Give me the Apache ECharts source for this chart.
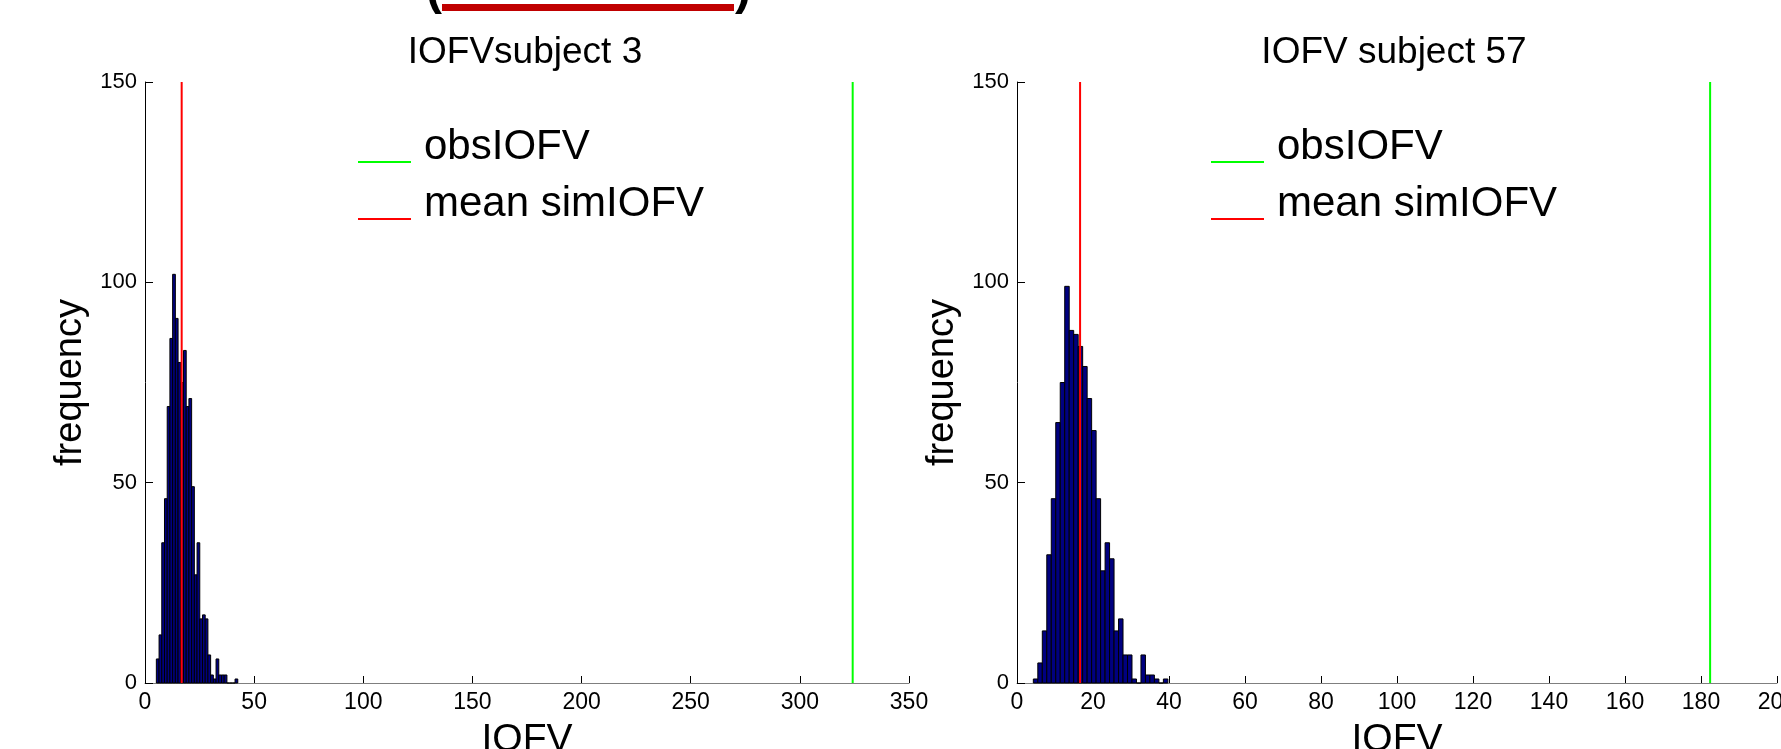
<!DOCTYPE html>
<html>
<head>
<meta charset="utf-8">
<script src="https://cdn.jsdelivr.net/npm/echarts@6/dist/echarts.min.js"></script>
<style>
  html, body { margin: 0; padding: 0; background: #fff; }
  #main { width: 1781px; height: 749px; }
</style>
</head>
<body>
<div id="main"></div>
<script>
// simulated IOFV histograms, 30 bins each (counts)
const titles = ['IOFVsubject 3', 'IOFV subject 57'];
const leftCounts = [6, 12, 35, 46, 69, 86, 102, 91, 80, 75, 83, 69, 71, 49, 27, 35, 16, 17, 16, 7, 2, 1, 6, 2, 2, 2, 0, 0, 0, 1];
const rightCounts = [1, 5, 13, 32, 46, 65, 75, 99, 88, 87, 84, 79, 71, 63, 46, 28, 35, 31, 13, 16, 7, 7, 1, 0, 7, 2, 2, 1, 0, 1];
const binRanges = [[5.2, 42.5], [4.3, 39.7]];
const obsIOFV = [324.2, 182.4];
const meanSimIOFV = [16.8, 16.6];
const xMax = [350, 200];
const xStep = [50, 20];
const yMax = 150;
const yStep = 50;

const FONT = "'Liberation Sans', Arial, sans-serif";
const grids = [
  { left: 145, top: 82, width: 764, height: 601, outerBoundsMode: 'none', containLabel: false },
  { left: 1017, top: 82, width: 760, height: 601, outerBoundsMode: 'none', containLabel: false }
];
const legendX = [358, 1211];

function bins(counts, range) {
  const w = (range[1] - range[0]) / counts.length;
  return counts.map((c, i) => [range[0] + i * w, range[0] + (i + 1) * w, c]);
}

function renderBar(params, api) {
  const p0 = api.coord([api.value(0), api.value(2)]);
  const p1 = api.coord([api.value(1), 0]);
  return {
    type: 'rect',
    shape: { x: p0[0], y: p0[1], width: p1[0] - p0[0], height: p1[1] - p0[1] },
    style: { fill: '#000080', stroke: '#000', lineWidth: 1 }
  };
}

const chart = echarts.init(document.getElementById('main'));

const xAxis = [0, 1].map(i => ({
  type: 'value',
  gridIndex: i,
  min: 0,
  max: xMax[i],
  interval: xStep[i],
  name: 'IOFV',
  nameLocation: 'middle',
  nameGap: 38,
  nameTextStyle: { fontSize: 39, fontFamily: FONT, color: '#000' },
  axisLine: { show: true, lineStyle: { color: '#7f7f7f', width: 1 } },
  axisTick: { show: true, inside: true, length: 7, lineStyle: { color: '#000' } },
  axisLabel: { fontSize: 23, fontFamily: FONT, color: '#000', margin: 8 },
  splitLine: { show: false }
}));

const yAxis = [0, 1].map(i => ({
  type: 'value',
  gridIndex: i,
  min: 0,
  max: yMax,
  interval: yStep,
  name: 'frequency',
  nameLocation: 'middle',
  nameGap: 55,
  nameTextStyle: { fontSize: 38, fontFamily: FONT, color: '#000' },
  axisLine: { show: true, lineStyle: { color: '#000', width: 1 } },
  axisTick: { show: true, inside: true, length: 8, lineStyle: { color: '#000' } },
  axisLabel: { fontSize: 22, fontFamily: FONT, color: '#000', margin: 8 },
  splitLine: { show: false }
}));

const series = [];
[leftCounts, rightCounts].forEach((counts, i) => {
  series.push({
    name: 'hist' + i,
    type: 'custom',
    xAxisIndex: i,
    yAxisIndex: i,
    renderItem: renderBar,
    encode: { x: [0, 1], y: 2 },
    data: bins(counts, binRanges[i]),
    z: 2
  });
  series.push({
    name: 'obsIOFV',
    type: 'line',
    xAxisIndex: i,
    yAxisIndex: i,
    symbol: 'none',
    color: '#00ff00',
    lineStyle: { color: '#00ff00', width: 2 },
    data: [[obsIOFV[i], 0], [obsIOFV[i], yMax]],
    z: 3
  });
  series.push({
    name: 'mean simIOFV',
    type: 'line',
    xAxisIndex: i,
    yAxisIndex: i,
    symbol: 'none',
    color: '#ff0000',
    lineStyle: { color: '#ff0000', width: 2 },
    data: [[meanSimIOFV[i], 0], [meanSimIOFV[i], yMax]],
    z: 4
  });
});

// legend sample is a short line sitting at the text baseline
const legendIcon = 'path://M0,0M61,42M0,35L53,35L53,37L0,37Z';

chart.setOption({
  backgroundColor: '#fff',
  animation: false,
  title: titles.map((t, i) => ({
    text: t,
    left: [525, 1394][i],
    top: 34,
    padding: 0,
    textAlign: 'center',
    textStyle: { fontSize: 37, fontWeight: 'normal', fontFamily: FONT, color: '#000' }
  })),
  legend: legendX.map(x => ({
    left: x,
    top: 126,
    orient: 'vertical',
    data: ['obsIOFV', 'mean simIOFV'],
    icon: legendIcon,
    itemWidth: 61,
    itemHeight: 42,
    itemGap: 15,
    padding: 0,
    selectedMode: false,
    textStyle: { fontSize: 42, fontFamily: FONT, color: '#000' }
  })),
  grid: grids,
  xAxis: xAxis,
  yAxis: yAxis,
  series: series,
  graphic: [
    { type: 'rect', shape: { x: 442, y: 4, width: 292, height: 7 }, style: { fill: '#c00000' } },
    { type: 'text', style: { text: '(', x: 434, y: 15, font: 'bold 48px ' + FONT, fill: '#000', align: 'center', verticalAlign: 'bottom' } },
    { type: 'text', style: { text: ')', x: 743, y: 15, font: 'bold 48px ' + FONT, fill: '#000', align: 'center', verticalAlign: 'bottom' } }
  ]
});
</script>
</body>
</html>
